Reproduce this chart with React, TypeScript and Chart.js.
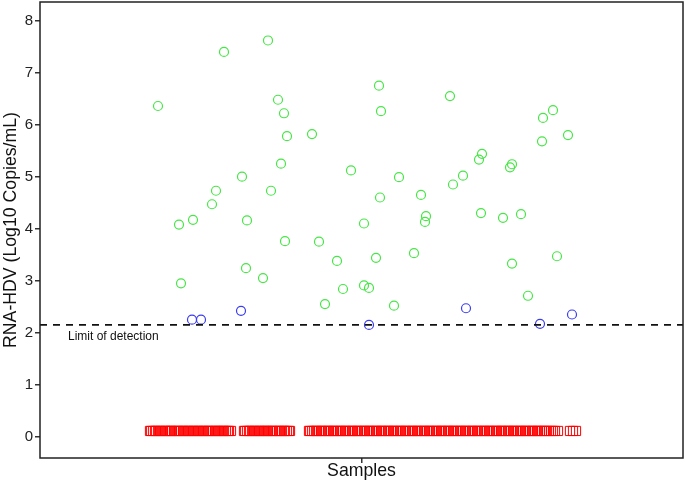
import React, { useEffect, useRef } from "react";
import { Chart, registerables } from "chart.js";

Chart.register(...registerables);

// Jittered horizontal positions (arbitrary sample-axis units) and log10 viral loads
const greenX = [158, 224, 268, 278, 284, 287, 281, 242, 216, 271, 212, 193, 179, 247, 285, 246, 263, 181,
  312, 351, 379, 381, 399, 380, 421, 426, 425, 364, 319, 337, 376, 414, 343, 364, 369, 325, 394,
  450, 553, 543, 568, 542, 482, 479, 512, 510, 463, 453, 481, 503, 521, 512, 557, 528];
const greenY = [6.36, 7.40, 7.62, 6.48, 6.22, 5.78, 5.25, 5.00, 4.73, 4.73, 4.47, 4.17, 4.08, 4.16, 3.76, 3.24, 3.05, 2.95,
  5.82, 5.12, 6.75, 6.26, 4.99, 4.60, 4.65, 4.24, 4.13, 4.10, 3.75, 3.38, 3.44, 3.53, 2.84, 2.91, 2.86, 2.55, 2.52,
  6.55, 6.28, 6.13, 5.80, 5.68, 5.44, 5.33, 5.24, 5.18, 5.02, 4.85, 4.30, 4.21, 4.28, 3.33, 3.47, 2.71];

const blueX = [192, 201, 241, 369, 466, 540, 572];
const blueY = [2.25, 2.25, 2.42, 2.15, 2.47, 2.17, 2.35];

// Undetectable samples (plotted just above zero)
const redX = [
  150, 151, 153, 155, 156, 158, 160, 161, 163, 165, 166, 168, 170, 171, 172, 174, 176, 178, 179, 181,
  183, 184, 186, 188, 189, 191, 193, 194, 196, 198, 199, 201, 203, 204, 206, 208, 209, 211, 213, 215,
  216, 218, 219, 221, 223, 224, 226, 228, 229, 231,
  244, 245, 247, 249, 250, 252, 254, 255, 257, 259, 260, 262, 264, 265, 267, 268, 270, 272, 273, 275,
  277, 279, 280, 282, 284, 285, 287, 289, 290,
  309, 310, 312, 314, 316, 317, 319, 321, 322, 324, 326, 328, 329, 331, 333, 334, 336, 338, 340, 341,
  343, 345, 346, 348, 350, 352, 353, 355, 357, 358, 360, 362, 364, 365, 367, 369, 370, 372, 374, 376,
  377, 379, 381, 382, 384, 386, 388, 389, 391, 393, 394, 396, 398, 400, 401, 403, 405, 406, 408, 410,
  412, 413, 415, 417, 418, 420, 422, 424, 425, 427, 429, 430, 432, 434, 436, 437, 439, 441, 442, 444,
  446, 448, 449, 451, 453, 454, 456, 458, 460, 461, 463, 465, 466, 468, 470, 472, 473, 475, 477, 478,
  480, 482, 484, 485, 487, 489, 490, 492, 494, 496, 497, 499, 501, 502, 504, 506, 508, 509, 511, 513,
  514, 516, 518, 520, 521, 523, 525, 526, 528, 530, 532, 533, 535, 537, 538, 540, 542, 544, 545, 547,
  549, 551, 553, 555, 558,
  570, 573, 576];
const redY = 0.11;

const detectionLimit = 2.15;
const limitLabel = "Limit of detection";
const yTicks = [0, 1, 2, 3, 4, 5, 6, 7, 8];
const xRange = [40, 683];
const yRange = [-0.41, 8.36];
const xTitle = "Samples";
const yTitle = "RNA-HDV (Log10 Copies/mL)";

const FONT = "'Liberation Sans', Arial, sans-serif";

function zeroPad(s: any) {
  s.paddingTop = 0;
  s.paddingBottom = 0;
  s.paddingLeft = 0;
  s.paddingRight = 0;
}

export default function App() {
  const ref = useRef<HTMLCanvasElement | null>(null);

  useEffect(() => {
    document.body.style.margin = "0";
    const canvas = ref.current;
    if (!canvas) return;

    const framePlugin = {
      id: "frame",
      afterDatasetsDraw(chart: any) {
        const { ctx, chartArea, scales } = chart;
        ctx.save();
        // detection limit dashed line
        const yl = scales.y.getPixelForValue(detectionLimit);
        ctx.strokeStyle = "#111";
        ctx.lineWidth = 1.6;
        ctx.setLineDash([7, 6]);
        ctx.beginPath();
        ctx.moveTo(scales.x.getPixelForValue(xRange[0]), yl);
        ctx.lineTo(scales.x.getPixelForValue(xRange[1]), yl);
        ctx.stroke();
        ctx.setLineDash([]);
        // panel frame
        ctx.strokeStyle = "#222";
        ctx.lineWidth = 1.5;
        ctx.strokeRect(chartArea.left, chartArea.top, chartArea.right - chartArea.left, chartArea.bottom - chartArea.top);
        ctx.fillStyle = "#111";
        ctx.font = `12px ${FONT}`;
        ctx.textBaseline = "middle";
        ctx.textAlign = "left";
        ctx.fillText(limitLabel, scales.x.getPixelForValue(68), yl + 12);
        ctx.restore();
      },
    };

    const chart = new Chart(canvas, {
      type: "scatter",
      data: {
        datasets: [
          {
            label: "negative",
            data: redX.map((x) => ({ x, y: redY })),
            pointStyle: "rect",
            pointRadius: 6.5,
            borderWidth: 1,
            borderColor: "rgb(255,0,0)",
            backgroundColor: "rgba(0,0,0,0)",
          },
          {
            label: "quantified",
            data: greenX.map((x, i) => ({ x, y: greenY[i] })),
            pointStyle: "circle",
            pointRadius: 4.5,
            borderWidth: 1.2,
            borderColor: "rgb(70,230,70)",
            backgroundColor: "rgba(0,0,0,0)",
          },
          {
            label: "near limit",
            data: blueX.map((x, i) => ({ x, y: blueY[i] })),
            pointStyle: "circle",
            pointRadius: 4.5,
            borderWidth: 1.2,
            borderColor: "rgb(60,60,240)",
            backgroundColor: "rgba(0,0,0,0)",
          },
        ],
      },
      options: {
        responsive: false,
        animation: false,
        layout: { autoPadding: false, padding: { top: 2, right: 2, left: 0, bottom: 0 } },
        plugins: { legend: { display: false }, tooltip: { enabled: false } },
        scales: {
          x: {
            type: "linear",
            min: xRange[0],
            max: xRange[1],
            afterBuildTicks: (s: any) => {
              s.ticks = [{ value: (xRange[0] + xRange[1]) / 2 }];
            },
            afterFit: (s: any) => {
              s.height = 27;
              zeroPad(s);
            },
            ticks: { callback: () => "", font: { family: FONT, size: 1 }, padding: 0 },
            grid: { drawOnChartArea: false, drawTicks: true, tickLength: 5, color: "#333", lineWidth: 1.5 },
            border: { display: false },
            title: {
              display: true,
              text: xTitle,
              color: "#111",
              font: { family: FONT, size: 17.7 },
              padding: { top: 0, bottom: 3 },
            },
          },
          y: {
            type: "linear",
            min: yRange[0],
            max: yRange[1],
            afterBuildTicks: (s: any) => {
              s.ticks = yTicks.map((v) => ({ value: v }));
            },
            afterFit: (s: any) => {
              s.width = 40;
              zeroPad(s);
            },
            ticks: { color: "#222", font: { family: FONT, size: 15 }, padding: 2 },
            grid: { drawOnChartArea: false, drawTicks: true, tickLength: 5, color: "#333", lineWidth: 1.5 },
            border: { display: false },
            title: {
              display: true,
              text: yTitle,
              color: "#111",
              font: { family: FONT, size: 17.7 },
              padding: 0,
            },
          },
        },
      },
      plugins: [framePlugin],
    });

    return () => chart.destroy();
  }, []);

  return <canvas ref={ref} width={685} height={485} />;
}
